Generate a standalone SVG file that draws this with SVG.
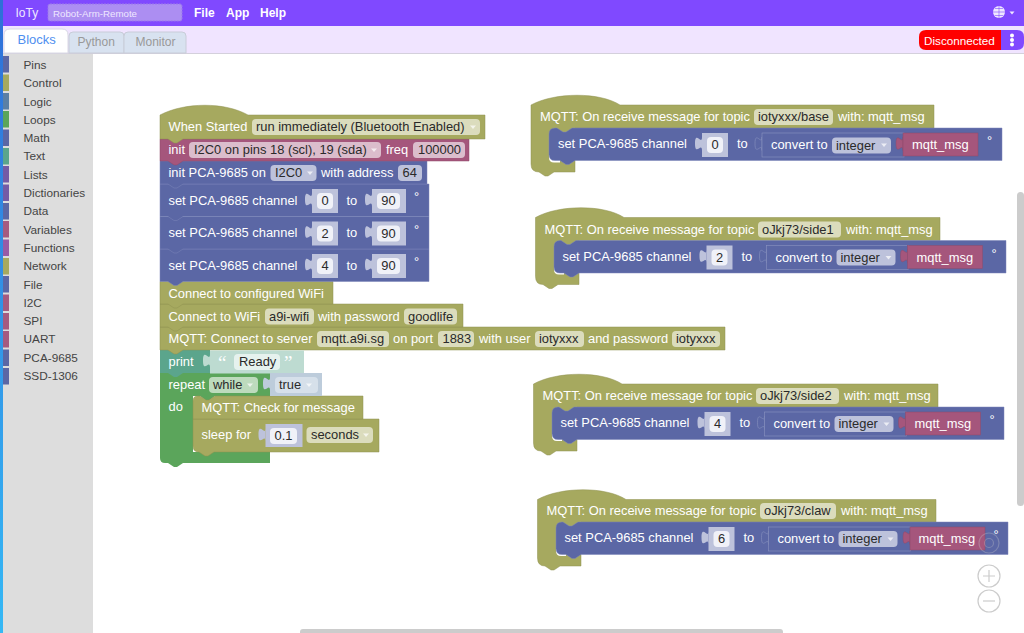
<svg xmlns="http://www.w3.org/2000/svg" width="1024" height="633" viewBox="0 0 1024 633">
<style>
text{font-family:"Liberation Sans",Arial,sans-serif;font-size:12.9px;white-space:pre}
.w{fill:#fff}.d{fill:#2a2a2a}.c{text-anchor:middle}
.ol{fill:#a6a95f;stroke:#8e9150;stroke-width:.5}
.pk{fill:#a5567c;stroke:#8d4a6a;stroke-width:.5}
.bl{fill:#5b67a5;stroke:#7c86b8;stroke-width:.5}
.gr{fill:#5ba55b}.te{fill:#5ba58c}
.fo{fill:#dbdcbd}.fp{fill:#dbbdcc}.fb{fill:#bdc2db}.fg{fill:#bddbbd}
.lb{fill:#bdc2db}.ft{fill:#f0f1f8}.lt{fill:#bddbd1}.ll{fill:#bdccdb}
.cv{fill:#5b67a5;stroke:#8a93c0;stroke-width:.6}
.side{font-size:11.800px;fill:#444}
.arr{fill:#fff;opacity:.7}
.gap{fill:#fff}
</style>
<defs>
<linearGradient id="edge" x1="0" y1="0" x2="0" y2="1"><stop offset="0" stop-color="#2f6fd8"/><stop offset="1" stop-color="#35b8f5"/></linearGradient>
<path id="tab" d="M0 0c0 9-7-7-7 6.500s7-2 7 7z"/>
<path id="arr" d="M-3-1.500h6l-3 3.500z"/>
</defs>
<rect width="1024" height="633" fill="#fff"/>
<g id="chrome">
<rect width="1024" height="26" fill="#8049ff"/>
<rect x="3" y="26" width="1021" height="27" fill="#f0e4ff"/>
<rect x="3" y="53" width="1021" height="1" fill="#d4d0dc"/>
<text x="15.500" y="17" fill="#efe8ff" style="font-size:12px">IoTy</text>
<rect x="48" y="4" width="134" height="17" rx="2" fill="#ac8ef2" stroke="#9a78ea" stroke-dasharray="2 1"/>
<text x="53" y="16.500" fill="#efe8ff" style="font-size:9.700px">Robot-Arm-Remote</text>
<g font-weight="bold" fill="#fff"><text x="194" y="17" style="font-size:12px">File</text><text x="226" y="17" style="font-size:12px">App</text><text x="260" y="17" style="font-size:12px">Help</text></g>
<circle cx="999" cy="12" r="6" fill="#efe8ff"/>
<path d="M993 12h12M999 6v12M995 8.500h8M995 15.500h8" stroke="#8049ff" stroke-width=".6" fill="none"/>
<path d="M1009.500 11.500h5l-2.500 3z" fill="#efe8ff"/>
<path d="M4 53V35q0-6 6-6h52q6 0 6 6v18z" fill="#fff" stroke="#d8d8e4"/>
<path d="M69 53V36q0-4 4-4h47q4 0 4 4v17z" fill="#d8e2f0" stroke="#c8ccd8"/>
<path d="M124 53V36q0-4 4-4h54q4 0 4 4v17z" fill="#d8e2f0" stroke="#c8ccd8"/>
<text x="17.500" y="44" fill="#4f8ff0" style="font-size:13px">Blocks</text>
<text x="77.500" y="46" fill="#999" style="font-size:12px">Python</text>
<text x="135.500" y="46" fill="#999" style="font-size:12px">Monitor</text>
<path d="M1001 30h-75q-7 0-7 7v6q0 7 7 7h75z" fill="#f00"/>
<path d="M1001 30h16q7 0 7 7v6q0 7-7 7h-16z" fill="#8049ff"/>
<text x="924" y="45" class="w" style="font-size:11.700px">Disconnected</text>
<g fill="#fff"><circle cx="1012" cy="35.500" r="2"/><circle cx="1012" cy="40" r="2"/><circle cx="1012" cy="44.500" r="2"/></g>
</g>
<g id="toolbox">
<rect x="3" y="54" width="90" height="579" fill="#ddd"/>
<rect x="0" y="0" width="3" height="633" fill="url(#edge)"/>
<rect x="3" y="56" width="6" height="16.500" fill="#5b67a5"/><rect x="3" y="74.500" width="6" height="16.500" fill="#a6a95f"/><rect x="3" y="93" width="6" height="16.500" fill="#5b80a5"/><rect x="3" y="111" width="6" height="16.500" fill="#5ba55b"/><rect x="3" y="129.500" width="6" height="16.500" fill="#5b67a5"/><rect x="3" y="148" width="6" height="16.500" fill="#5ba58c"/><rect x="3" y="166" width="6" height="16.500" fill="#745ba5"/><rect x="3" y="184.500" width="6" height="16.500" fill="#745ba5"/><rect x="3" y="203" width="6" height="16.500" fill="#5b67a5"/><rect x="3" y="221" width="6" height="16.500" fill="#a55b80"/><rect x="3" y="239.500" width="6" height="16.500" fill="#995ba5"/><rect x="3" y="258" width="6" height="16.500" fill="#a6a95f"/><rect x="3" y="276" width="6" height="16.500" fill="#5b67a5"/><rect x="3" y="294.500" width="6" height="16.500" fill="#a55b80"/><rect x="3" y="313" width="6" height="16.500" fill="#a55b80"/><rect x="3" y="331" width="6" height="16.500" fill="#a55b80"/><rect x="3" y="349.500" width="6" height="16.500" fill="#5b67a5"/><rect x="3" y="368" width="6" height="16.500" fill="#5b67a5"/>
<text class="side" x="23.500" y="69">Pins</text><text class="side" x="23.500" y="87">Control</text><text class="side" x="23.500" y="105.500">Logic</text><text class="side" x="23.500" y="123.500">Loops</text><text class="side" x="23.500" y="142">Math</text><text class="side" x="23.500" y="160">Text</text><text class="side" x="23.500" y="178.500">Lists</text><text class="side" x="23.500" y="197">Dictionaries</text><text class="side" x="23.500" y="215">Data</text><text class="side" x="23.500" y="233.500">Variables</text><text class="side" x="23.500" y="252">Functions</text><text class="side" x="23.500" y="270">Network</text><text class="side" x="23.500" y="288.500">File</text><text class="side" x="23.500" y="306.500">I2C</text><text class="side" x="23.500" y="325">SPI</text><text class="side" x="23.500" y="343">UART</text><text class="side" x="23.500" y="361.500">PCA-9685</text><text class="side" x="23.500" y="380">SSD-1306</text>
</g>
<g id="connectors"></g>
<g id="stack">
<path id="repeat" class="gr" d="M160 373H270V396H193V452H270V463H183l-6 4h-3l-6-4h-3q-5 0-5-5z"/>
<path class="gr" d="M200 395h15v1l-6 4.500h-3l-6-4.500z"/>
<path id="sleep-shape" class="ol" d="M193 419H379V452H214l-6 4h-3l-6-4q-6 0-6-6z"/>
<path class="ol" d="M193 401q0-5 5-5h2l6 4h3l6-4H363V419H193z"/>
<path class="te" d="M160 350H210V373H183l-6 4h-3l-6-4H160z"/>
<path class="ol" d="M160 327H725V350H183l-6 4h-3l-6-4H160z"/>
<path class="ol" d="M160 304H463V327H183l-6 4h-3l-6-4H160z"/>
<path class="ol" d="M160 281.500H333V304H183l-6 4h-3l-6-4H160z"/>
<path class="bl" d="M160 249H429V281.500H183l-6 4h-3l-6-4H160z"/>
<path class="bl" d="M160 216.500H429V249H183l-6 4h-3l-6-4H160z"/>
<path class="bl" d="M160 184H429V216.500H183l-6 4h-3l-6-4H160z"/>
<path class="bl" d="M160 161H427V184H183l-6 4h-3l-6-4H160z"/>
<path class="pk" d="M160 139H469V161H183l-6 4h-3l-6-4H160z"/>
<path class="ol" d="M160 115C185 102 225 102 248 115H485V139H183l-6 4h-3l-6-4H160z"/>

<g id="when-started"><text class="w" x="168.500" y="131">When Started</text><rect class="fo" x="252" y="119" width="228" height="16" rx="4"/><text class="d" x="256" y="131">run immediately (Bluetooth Enabled)</text><use href="#arr" x="473" y="127" class="arr"/></g>
<g id="init-i2c"><text class="w" x="168.500" y="154">init</text><rect class="fp" x="189" y="142" width="192" height="16" rx="4"/><text class="d" x="194" y="154">I2C0 on pins 18 (scl), 19 (sda)</text><use href="#arr" x="374" y="150" class="arr"/><text class="w" x="386" y="154">freq</text><rect class="fp" x="413" y="142" width="52" height="16" rx="4"/><text class="d" x="418" y="154">100000</text></g>
<g id="init-pca"><text class="w" x="168.500" y="177">init PCA-9685 on</text><rect class="fb" x="270.500" y="165" width="46" height="16" rx="4"/><text class="d" x="275" y="177">I2C0</text><use href="#arr" x="310" y="173" class="arr"/><text class="w" x="321" y="177">with address</text><rect class="fb" x="398" y="165" width="24" height="16" rx="4"/><text class="d" x="402.500" y="177">64</text></g>

<g id="set-ch0"><text class="w" x="168.500" y="204.500">set PCA-9685 channel</text><use href="#tab" x="312" y="193" class="lb"/><rect class="lb" x="312" y="189" width="26" height="24"/><rect class="ft" x="317" y="193" width="16" height="16" rx="4"/><text class="d c" x="325" y="205">0</text><text class="w" x="346.500" y="204.500">to</text><use href="#tab" x="372" y="193" class="lb"/><rect class="lb" x="372" y="189" width="34" height="24"/><rect class="ft" x="377" y="193" width="23" height="16" rx="4"/><text class="d c" x="388.500" y="205">90</text><text class="w" x="414" y="201">°</text></g>
<g id="set-ch2" transform="translate(0 32.500)"><text class="w" x="168.500" y="204.500">set PCA-9685 channel</text><use href="#tab" x="312" y="193" class="lb"/><rect class="lb" x="312" y="189" width="26" height="24"/><rect class="ft" x="317" y="193" width="16" height="16" rx="4"/><text class="d c" x="325" y="205">2</text><text class="w" x="346.500" y="204.500">to</text><use href="#tab" x="372" y="193" class="lb"/><rect class="lb" x="372" y="189" width="34" height="24"/><rect class="ft" x="377" y="193" width="23" height="16" rx="4"/><text class="d c" x="388.500" y="205">90</text><text class="w" x="414" y="201">°</text></g>
<g id="set-ch4" transform="translate(0 65)"><text class="w" x="168.500" y="204.500">set PCA-9685 channel</text><use href="#tab" x="312" y="193" class="lb"/><rect class="lb" x="312" y="189" width="26" height="24"/><rect class="ft" x="317" y="193" width="16" height="16" rx="4"/><text class="d c" x="325" y="205">4</text><text class="w" x="346.500" y="204.500">to</text><use href="#tab" x="372" y="193" class="lb"/><rect class="lb" x="372" y="189" width="34" height="24"/><rect class="ft" x="377" y="193" width="23" height="16" rx="4"/><text class="d c" x="388.500" y="205">90</text><text class="w" x="414" y="201">°</text></g>

<g id="wifi-configured"><text class="w" x="168.500" y="297.500">Connect to configured WiFi</text></g>
<g id="wifi"><text class="w" x="168.500" y="320.500">Connect to WiFi</text><rect class="fo" x="265" y="308.500" width="49" height="16" rx="4"/><text class="d" x="269" y="320.500">a9i-wifi</text><text class="w" x="318" y="320.500">with password</text><rect class="fo" x="404" y="308.500" width="53" height="16" rx="4"/><text class="d" x="408" y="320.500">goodlife</text></g>
<g id="mqtt-connect"><text class="w" x="168.500" y="343">MQTT: Connect to server</text><rect class="fo" x="317" y="331" width="72" height="16" rx="4"/><text class="d" x="321" y="343">mqtt.a9i.sg</text><text class="w" x="393" y="343">on port</text><rect class="fo" x="438" y="331" width="36" height="16" rx="4"/><text class="d" x="442.500" y="343">1883</text><text class="w" x="479" y="343">with user</text><rect class="fo" x="535" y="331" width="49" height="16" rx="4"/><text class="d" x="539" y="343">iotyxxx</text><text class="w" x="588" y="343">and password</text><rect class="fo" x="672" y="331" width="48" height="16" rx="4"/><text class="d" x="676" y="343">iotyxxx</text></g>
<g id="print"><text class="w" x="168.500" y="366">print</text><use href="#tab" x="210" y="354" class="lt"/><rect class="lt" x="210" y="350.500" width="94" height="23"/><text x="218" y="369" fill="#fff" style="font-family:'Liberation Serif',serif;font-size:19px">“</text><rect x="234" y="354" width="46" height="16" rx="4" fill="#e6f2ee"/><text class="d" x="239" y="366">Ready</text><text x="284" y="369" fill="#fff" style="font-family:'Liberation Serif',serif;font-size:19px">”</text></g>
<g id="repeat-labels"><text class="w" x="168.500" y="389">repeat</text><rect class="fg" x="209" y="377" width="49" height="16" rx="4"/><text class="d" x="213" y="389">while</text><use href="#arr" x="250" y="385" class="arr"/><use href="#tab" x="270" y="377" class="ll"/><rect class="ll" x="270" y="373" width="52" height="23"/><rect x="275" y="377" width="43" height="16" rx="4" fill="#d6e0ea"/><text class="d" x="279" y="389">true</text><use href="#arr" x="309" y="385" class="arr"/><text class="w" x="168.500" y="411">do</text></g>
<g id="mqtt-check"><text class="w" x="201.500" y="412">MQTT: Check for message</text></g>
<g id="sleep"><text class="w" x="201.500" y="439">sleep for</text><use href="#tab" x="265.500" y="428" class="lb"/><rect class="lb" x="265.500" y="424" width="37" height="23"/><rect class="ft" x="270" y="428" width="27" height="16" rx="4"/><text class="d c" x="283.500" y="440">0.1</text><rect class="fo" x="306.500" y="427" width="66.500" height="16" rx="4"/><text class="d" x="311" y="439">seconds</text><use href="#arr" x="366" y="435" class="arr"/></g>
</g>

<g id="mqtt-base">
<path class="ol" d="M531 105C555 92 600 92 620 105H934V128H575V172H554l-6 4h-3l-6-4q-8 0-8-8z"/>
<path class="gap" d="M549 152h11v10.500h-6q-5 0-5-5z"/>
<path class="bl" d="M549 134q0-6 6-6h2l6 4h3l6-4H1002V160.500H575l-6 4h-3l-6-4h-5q-6 0-6-6z"/>
<text class="w" x="540" y="121">MQTT: On receive message for topic</text><rect class="fo" x="754" y="109" width="79" height="16" rx="4"/><text class="d" x="758" y="121">iotyxxx/base</text><text class="w" x="838" y="121">with: mqtt_msg</text>
<text class="w" x="558" y="148">set PCA-9685 channel</text><use href="#tab" x="702" y="137" class="lb"/><rect class="lb" x="702" y="133" width="26" height="24"/><rect class="ft" x="707" y="137" width="16" height="16" rx="4"/><text class="d c" x="715" y="149">0</text><text class="w" x="737" y="148">to</text>
<use href="#tab" x="762" y="137" class="cv"/><rect x="762" y="133" width="142" height="24" class="cv"/><text class="w" x="771" y="149">convert to</text><rect class="fb" x="832" y="137.500" width="59" height="16" rx="4"/><text class="d" x="836" y="149.500">integer</text><use href="#arr" x="884" y="145" class="arr"/>
<use href="#tab" x="903" y="137" class="pk"/><rect class="pk" x="903" y="133" width="75" height="23"/><text class="w" x="912" y="149">mqtt_msg</text><text class="w" x="987" y="145">°</text>
</g>
<g id="mqtt-side1">
<path class="ol" d="M535.500 217.500C559 204.500 604 204.500 624 217.500H940V240.500H579V284.500H558l-6 4h-3l-6-4q-7.500 0-7.500-8z"/>
<path class="gap" d="M554 264.500h10v10h-5q-5 0-5-5z"/>
<path class="bl" d="M554 246.500q0-6 6-6h1l6 4h3l6-4H1006V273H579l-6 4h-3l-6-4h-4q-6 0-6-6z"/>
<text class="w" x="544.500" y="233.500">MQTT: On receive message for topic</text><rect class="fo" x="758" y="221.500" width="83" height="16" rx="4"/><text class="d" x="762" y="233.500">oJkj73/side1</text><text class="w" x="846" y="233.500">with: mqtt_msg</text>
<text class="w" x="562.500" y="260.500">set PCA-9685 channel</text><use href="#tab" x="706.500" y="249.500" class="lb"/><rect class="lb" x="706.500" y="245.500" width="26" height="24"/><rect class="ft" x="711.500" y="249.500" width="16" height="16" rx="4"/><text class="d c" x="719.500" y="261.500">2</text><text class="w" x="741.500" y="260.500">to</text>
<use href="#tab" x="766.500" y="249.500" class="cv"/><rect x="766.500" y="245.500" width="142" height="24" class="cv"/><text class="w" x="775.500" y="261.500">convert to</text><rect class="fb" x="836.500" y="249.500" width="59" height="16" rx="4"/><text class="d" x="840.500" y="261.500">integer</text><use href="#arr" x="888.500" y="257.500" class="arr"/>
<use href="#tab" x="907.500" y="249.500" class="pk"/><rect class="pk" x="907.500" y="245.500" width="75" height="23"/><text class="w" x="916.500" y="261.500">mqtt_msg</text><text class="w" x="991.500" y="257.500">°</text>
</g>
<g id="mqtt-side2">
<path class="ol" d="M533.500 384C557 371 602 371 622 384H938V407H577V451H556l-6 4h-3l-6-4q-7.500 0-7.500-8z"/>
<path class="gap" d="M552 431h10v10h-5q-5 0-5-5z"/>
<path class="bl" d="M552 413q0-6 6-6h1l6 4h3l6-4H1004V439.500H577l-6 4h-3l-6-4h-4q-6 0-6-6z"/>
<text class="w" x="542.500" y="400">MQTT: On receive message for topic</text><rect class="fo" x="756" y="388" width="83" height="16" rx="4"/><text class="d" x="760" y="400">oJkj73/side2</text><text class="w" x="844" y="400">with: mqtt_msg</text>
<text class="w" x="560.500" y="427">set PCA-9685 channel</text><use href="#tab" x="704.500" y="416" class="lb"/><rect class="lb" x="704.500" y="412" width="26" height="24"/><rect class="ft" x="709.500" y="416" width="16" height="16" rx="4"/><text class="d c" x="717.500" y="428">4</text><text class="w" x="739.500" y="427">to</text>
<use href="#tab" x="764.500" y="416" class="cv"/><rect x="764.500" y="412" width="142" height="24" class="cv"/><text class="w" x="773.500" y="428">convert to</text><rect class="fb" x="834.500" y="416" width="59" height="16" rx="4"/><text class="d" x="838.500" y="428">integer</text><use href="#arr" x="886.500" y="424" class="arr"/>
<use href="#tab" x="905.500" y="416" class="pk"/><rect class="pk" x="905.500" y="412" width="75" height="23"/><text class="w" x="914.500" y="428">mqtt_msg</text><text class="w" x="989.500" y="424">°</text>
</g>
<g id="mqtt-claw">
<path class="ol" d="M537.500 499.500C561 486.500 606 486.500 626 499.500H936V522H581V566H560l-6 4h-3l-6-4q-7.500 0-7.500-8z"/>
<path class="gap" d="M556 546h10v10h-5q-5 0-5-5z"/>
<path class="bl" d="M556 528q0-6 6-6h1l6 4h3l6-4H1008V554.500H581l-6 4h-3l-6-4h-4q-6 0-6-6z"/>
<text class="w" x="546.500" y="515">MQTT: On receive message for topic</text><rect class="fo" x="760" y="503" width="76" height="16" rx="4"/><text class="d" x="764" y="515">oJkj73/claw</text><text class="w" x="841" y="515">with: mqtt_msg</text>
<text class="w" x="564.500" y="542">set PCA-9685 channel</text><use href="#tab" x="708.500" y="531" class="lb"/><rect class="lb" x="708.500" y="527" width="26" height="24"/><rect class="ft" x="713.500" y="531" width="16" height="16" rx="4"/><text class="d c" x="721.500" y="543">6</text><text class="w" x="743.500" y="542">to</text>
<use href="#tab" x="768.500" y="531" class="cv"/><rect x="768.500" y="527" width="142" height="24" class="cv"/><text class="w" x="777.500" y="543">convert to</text><rect class="fb" x="838.500" y="531" width="59" height="16" rx="4"/><text class="d" x="842.500" y="543">integer</text><use href="#arr" x="890.500" y="539" class="arr"/>
<use href="#tab" x="910" y="531" class="pk"/><rect class="pk" x="910" y="527" width="75" height="23"/><text class="w" x="918.500" y="543">mqtt_msg</text><text class="w" x="993.500" y="539">°</text>
</g>
<g id="workspace-controls" fill="none" stroke="#ccc" stroke-width="1.200">
<circle cx="989" cy="543" r="10" opacity=".3"/><circle cx="989" cy="543" r="4.500" opacity=".3"/>
<circle cx="989" cy="576" r="11" fill="#fff"/><path d="M983 576h12M989 570v12"/>
<circle cx="989" cy="601" r="11" fill="#fff"/><path d="M983 601h12"/>
<rect x="1017" y="192" width="7" height="314" rx="3.500" fill="#ccc" stroke="none"/>
<rect x="300" y="629" width="483" height="6" rx="3" fill="#ccc" stroke="none"/>
</g>
</svg>
